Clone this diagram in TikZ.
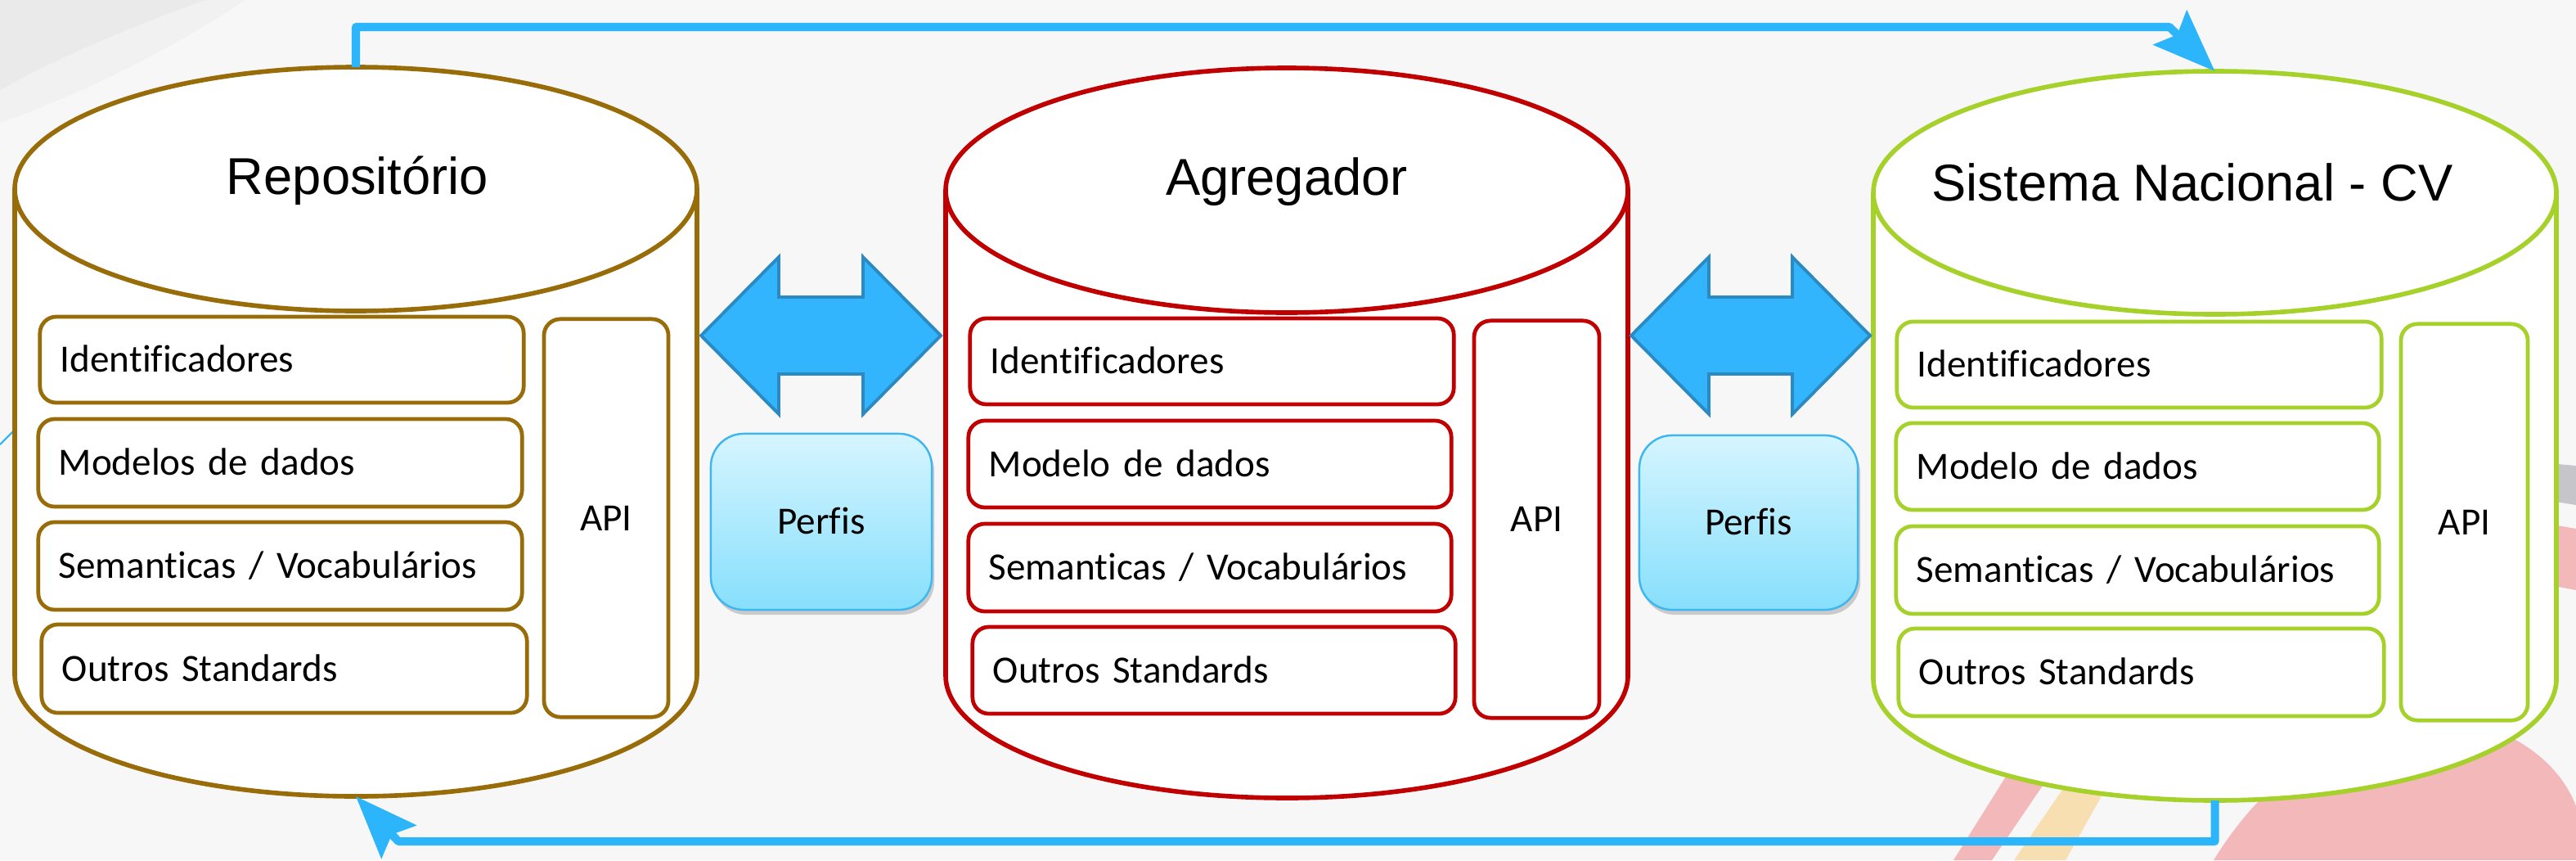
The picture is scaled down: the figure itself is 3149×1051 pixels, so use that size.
\documentclass[tikz,border=0pt]{standalone}
\usepackage{fontspec}
\setmainfont{Carlito}[Ligatures=CommonOff]
\newfontfamily\titlefont{Liberation Sans}
\usetikzlibrary{arrows.meta,shadows}
\definecolor{bg}{RGB}{247,247,247}
\definecolor{cbrown}{RGB}{152,108,8}
\definecolor{cred}{RGB}{192,0,0}
\definecolor{cgreen}{RGB}{166,208,42}
\definecolor{cblue}{RGB}{44,181,250}
\definecolor{afill}{RGB}{51,181,253}
\definecolor{aline}{RGB}{42,138,193}
\definecolor{ptop}{RGB}{214,245,255}
\definecolor{pbot}{RGB}{134,223,252}
\definecolor{pline}{RGB}{62,182,240}
\definecolor{dgrey}{RGB}{234,234,234}
\definecolor{lgrey}{RGB}{241,241,241}
\definecolor{mgrey}{RGB}{198,198,200}
\definecolor{bgpink}{RGB}{242,184,186}
\definecolor{bgyel}{RGB}{247,223,178}

\tikzset{
  ibox/.style={draw=#1, line width=1.35pt, fill=white, rounded corners=0.2cm,
    inner xsep=0.25cm, inner ysep=0pt, font=\fontsize{13.4}{16}\selectfont,
    text height=10pt, text depth=1.4pt},
  cylline/.style={draw=#1, line width=1.6pt},
  ctitle/.style={font=\titlefont\fontsize{18}{22}\selectfont, anchor=base, inner sep=0pt},
  perfis/.style={draw=pline, line width=0.7pt, rounded corners=0.4cm,
    top color=ptop, bottom color=pbot, font=\fontsize{13.4}{16}\selectfont,
    text height=10pt, text depth=1.4pt,
    drop shadow={opacity=0.18, shadow xshift=0.03cm, shadow yshift=-0.06cm, fill=black}},
  conn/.style={draw=cblue, line width=2.85pt, line join=round,
    -{Stealth[length=0.76cm, width=0.58cm, inset=0.12cm]}},
  darrow/.style={fill=afill, draw=aline, line width=1.1pt},
}

% cylinder: name, colour, left, right, top, bottom, y radius
\newcommand\mycyl[7]{%
  \pgfmathsetmacro\cylcx{(#3+#4)/2}%
  \pgfmathsetmacro\cylrx{(#4-#3)/2}%
  \pgfmathsetmacro\cylyt{#5+#7}%
  \pgfmathsetmacro\cylyb{#6-#7}%
  \pgfmathsetmacro\cylkx{0.5523*\cylrx}%
  \pgfmathsetmacro\cylky{0.5523*#7}%
  \fill[white] (#3,\cylyt) -- (#3,\cylyb) .. controls (#3,\cylyb+\cylky) and (\cylcx-\cylkx,#6) .. (\cylcx,#6)
     .. controls (\cylcx+\cylkx,#6) and (#4,\cylyb+\cylky) .. (#4,\cylyb) -- (#4,\cylyt) -- cycle;
  \draw[cylline=#2] (#3,\cylyt) -- (#3,\cylyb) .. controls (#3,\cylyb+\cylky) and (\cylcx-\cylkx,#6) .. (\cylcx,#6)
     .. controls (\cylcx+\cylkx,#6) and (#4,\cylyb+\cylky) .. (#4,\cylyb) -- (#4,\cylyt);
  \draw[cylline=#2, fill=white] (\cylcx,\cylyt) ellipse [x radius=\cylrx, y radius=#7];
  \coordinate (#1-top) at (\cylcx,#5);
  \coordinate (#1-bot) at (\cylcx,#6);
}

% box: name, colour, left, right, top, bottom, align, text
\newcommand\mybox[8]{%
  \pgfmathsetmacro\bxtw{(#4-#3)/100-0.5}%
  \pgfmathsetmacro\bxh{(#6-#5)/100}%
  \node[ibox=#2, align=#7, text width=\bxtw cm, minimum height=\bxh cm]
     (#1) at ({(#3+#4)/2},{(#5+#6)/2}) {#8};
}

% double arrow: left tip x, right tip x, centre y
\newcommand\mydarrow[3]{%
  \draw[darrow] (#1,#3) -- ({#1+95},{#3-96}) -- ({#1+95},{#3-47}) -- ({#2-95},{#3-47})
    -- ({#2-95},{#3-96}) -- (#2,#3) -- ({#2-95},{#3+96}) -- ({#2-95},{#3+47})
    -- ({#1+95},{#3+47}) -- ({#1+95},{#3+96}) -- cycle;
}

\begin{document}
\begin{tikzpicture}[x=0.01cm,y=-0.01cm]
\useasboundingbox (0,0) rectangle (3149,1051);
% background
\fill[bg] (0,0) rectangle (3149,1051);
\fill[lgrey] (0,0) -- (300,0) .. controls (210,60) and (100,115) .. (0,150) -- cycle;
\fill[dgrey] (0,0) -- (252,0) .. controls (180,25) and (80,65) .. (0,110) -- cycle;
\fill[mgrey] (3080,563) -- (3149,569) -- (3149,617) -- (3080,606) -- cycle;
\fill[bgpink] (3080,634) -- (3149,646) -- (3149,721) -- (3080,708) -- cycle;
\fill[bgpink] (2388,1051) -- (2470,920) -- (2524,920) -- (2435,1051) -- cycle;
\fill[bgyel] (2462,1051) -- (2545,930) -- (2593,930) -- (2525,1051) -- cycle;
\fill[bgpink] (2706,1051) .. controls (2780,930) and (2900,860) .. (3010,880)
   .. controls (3080,895) and (3130,935) .. (3149,985) -- (3149,1051) -- cycle;
\draw[cblue, line width=0.6pt] (0,543) -- (30,513);

% cylinders
\mycyl{rep}{cbrown}{18}{852}{82}{973}{149}
\mycyl{agr}{cred}{1156}{1990}{83}{975}{149.5}
\mycyl{sis}{cgreen}{2290}{3125}{87}{978}{148.5}

\node[ctitle] (rep-title) at (437,237) {Repositório};
\node[ctitle] (agr-title) at (1573,238) {Agregador};
\node[ctitle] (sis-title) at (2680,245) {Sistema Nacional - CV};

% inner boxes
\mybox{rep-id}{cbrown}{49}{640}{387}{492}{left}{Identificadores}
\mybox{rep-mod}{cbrown}{47}{638}{512}{619}{left}{Modelos de dados}
\mybox{rep-sem}{cbrown}{47}{638}{638}{745}{left}{Semanticas / Vocabulários}
\mybox{rep-out}{cbrown}{51}{644}{763}{871}{left}{Outros Standards}
\mybox{rep-api}{cbrown}{665}{817}{390}{876}{center}{API}

\mybox{agr-id}{cred}{1186}{1777}{389}{494}{left}{Identificadores}
\mybox{agr-mod}{cred}{1184}{1774}{514}{620}{left}{Modelo de dados}
\mybox{agr-sem}{cred}{1184}{1774}{640}{747}{left}{Semanticas / Vocabulários}
\mybox{agr-out}{cred}{1189}{1779}{766}{872}{left}{Outros Standards}
\mybox{agr-api}{cred}{1802}{1955}{392}{877}{center}{API}

\mybox{sis-id}{cgreen}{2319}{2911}{393}{498}{left}{Identificadores}
\mybox{sis-mod}{cgreen}{2318}{2908}{517}{623}{left}{Modelo de dados}
\mybox{sis-sem}{cgreen}{2318}{2908}{643}{750}{left}{Semanticas / Vocabulários}
\mybox{sis-out}{cgreen}{2321}{2914}{768}{875}{left}{Outros Standards}
\mybox{sis-api}{cgreen}{2935}{3090}{396}{880}{center}{API}

% double arrows
\mydarrow{857}{1150}{410}
\mydarrow{1994}{2286}{410}

% profiles
\node[perfis, minimum width=2.70cm, minimum height=2.15cm] (perfis1) at (1004,637.5) {Perfis};
\node[perfis, minimum width=2.67cm, minimum height=2.13cm] (perfis2) at (2137.5,638.5) {Perfis};

% connectors
\draw[conn] (rep-top) |- (2652,33) -- (sis-top);
\draw[conn] (sis-bot) |- (487,1028) -- (rep-bot);
\end{tikzpicture}
\end{document}
